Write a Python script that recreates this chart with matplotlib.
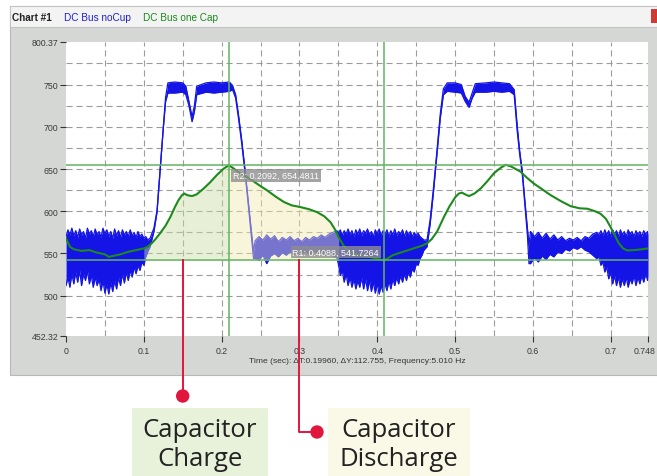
import numpy as np
import matplotlib
matplotlib.use("Agg")
import matplotlib.pyplot as plt
from matplotlib.patches import Rectangle, Circle
from matplotlib.lines import Line2D
from matplotlib.transforms import IdentityTransform, ScaledTranslation

# DC Bus noCup (blue): noisy trace, kept as upper / lower envelope of the band
blue_t = [0.0, 0.0025, 0.005, 0.0075, 0.01, 0.0125, 0.015, 0.0175, 0.02, 0.0225,
          0.025, 0.0275, 0.03, 0.0325, 0.035, 0.0375, 0.04, 0.0425, 0.045, 0.0475,
          0.05, 0.0525, 0.055, 0.0575, 0.06, 0.0625, 0.065, 0.0675, 0.07, 0.0725,
          0.075, 0.0775, 0.08, 0.0825, 0.085, 0.0875, 0.09, 0.0925, 0.095, 0.0975,
          0.1, 0.1025, 0.105,
          0.108, 0.113, 0.117, 0.121, 0.125, 0.128, 0.131, 0.14, 0.15, 0.154,
          0.158, 0.162, 0.165, 0.168, 0.18, 0.19, 0.2, 0.21, 0.214, 0.218,
          0.222, 0.226, 0.23, 0.234, 0.238, 0.241,
          0.243, 0.248, 0.253, 0.258, 0.263, 0.268, 0.273, 0.278, 0.283, 0.288,
          0.293, 0.298, 0.303, 0.308, 0.313, 0.318, 0.323, 0.328, 0.333, 0.338,
          0.343, 0.348,
          0.35, 0.3525, 0.355, 0.3575, 0.36, 0.3625, 0.365, 0.3675, 0.37, 0.3725,
          0.375, 0.3775, 0.38, 0.3825, 0.385, 0.3875, 0.39, 0.3925, 0.395, 0.3975,
          0.4, 0.4025, 0.405, 0.4075, 0.41, 0.4125, 0.415, 0.4175, 0.42, 0.4225,
          0.425, 0.4275, 0.43, 0.4325, 0.435, 0.4375, 0.44, 0.4425, 0.445, 0.4475,
          0.45, 0.4525, 0.455, 0.4575, 0.46,
          0.464, 0.468, 0.472, 0.477, 0.481, 0.485, 0.49, 0.5, 0.508, 0.513,
          0.518, 0.522, 0.526, 0.54, 0.55, 0.56, 0.57, 0.576, 0.58, 0.583,
          0.5865, 0.59, 0.593, 0.595,
          0.597, 0.602, 0.607, 0.612, 0.617, 0.622, 0.627, 0.632, 0.637, 0.642,
          0.647, 0.652, 0.657, 0.662, 0.667, 0.672, 0.677, 0.682,
          0.685, 0.6875, 0.69, 0.6925, 0.695, 0.6975, 0.7, 0.7025, 0.705, 0.7075,
          0.71, 0.7125, 0.715, 0.7175, 0.72, 0.7225, 0.725, 0.7275, 0.73, 0.7325,
          0.735, 0.7375, 0.74, 0.7425, 0.745, 0.7475, 0.748]
blue_hi = [570, 578, 572, 580, 571, 577, 569, 579, 572, 576,
           568, 580, 573, 577, 570, 579, 572, 576, 569, 580,
           573, 578, 570, 576, 568, 579, 571, 577, 569, 578,
           572, 576, 570, 578, 571, 575, 569, 576, 570, 573,
           568, 570, 566,
           568, 580, 601, 650, 700, 735, 752, 753, 752, 748,
           730, 712, 725, 748, 752, 753, 752, 753, 749, 738,
           712, 683, 650, 614, 578, 552,
           565, 570, 566, 572, 567, 571, 564, 569, 566, 570,
           565, 568, 564, 569, 566, 570, 568, 572, 569, 573,
           575, 577,
           574, 578, 571, 577, 573, 579, 572, 577, 570, 578,
           573, 579, 571, 577, 574, 579, 572, 576, 570, 578,
           573, 579, 571, 577, 573, 578, 570, 577, 572, 579,
           571, 576, 573, 578, 570, 577, 572, 576, 570, 575,
           571, 574, 570, 568, 566,
           566, 590, 625, 674, 715, 745, 752, 752, 750, 736,
           729, 740, 751, 752, 753, 752, 751, 744, 700, 672,
           647, 610, 580, 560,
           576, 570, 575, 568, 574, 567, 572, 566, 570, 565,
           568, 566, 569, 565, 570, 568, 573, 575,
           572, 577, 571, 578, 572, 577, 570, 578, 573, 577,
           570, 578, 572, 576, 570, 578, 573, 576, 570, 577,
           572, 576, 570, 577, 573, 576, 572]
blue_lo = [512, 522, 510, 526, 514, 528, 516, 530, 512, 526,
           518, 530, 514, 524, 510, 522, 512, 520, 506, 518,
           503, 514, 502, 516, 505, 518, 508, 522, 512, 526,
           515, 528, 518, 530, 522, 534, 526, 536, 530, 540,
           536, 546, 552,
           558, 576, 599, 648, 698, 730, 740, 740, 741, 738,
           725, 706, 718, 738, 741, 740, 741, 742, 744, 734,
           708, 679, 646, 610, 572, 544,
           544, 542, 548, 538, 547, 550, 546, 551, 548, 552,
           549, 553, 550, 552, 549, 553, 550, 552, 548, 551,
           547, 545,
           538, 524, 530, 516, 526, 512, 522, 510, 520, 508,
           518, 510, 522, 508, 520, 506, 518, 505, 516, 503,
           514, 502, 512, 504, 514, 506, 518, 508, 520, 512,
           522, 514, 524, 516, 526, 518, 528, 522, 532, 528,
           538, 536, 544, 548, 554,
           558, 585, 620, 670, 710, 738, 742, 741, 740, 730,
           723, 734, 741, 741, 742, 741, 742, 738, 694, 668,
           643, 605, 572, 538,
           538, 545, 540, 547, 543, 549, 546, 552, 550, 555,
           553, 557, 555, 558, 554, 552, 548, 544,
           546, 536, 540, 528, 534, 520, 528, 514, 524, 512,
           522, 510, 520, 512, 522, 510, 520, 514, 524, 512,
           522, 514, 524, 516, 526, 518, 524]

# DC Bus one Cap (green)
green_t = [0.0, 0.005, 0.01, 0.02, 0.03, 0.04, 0.05, 0.055, 0.06, 0.07, 0.08,
           0.09, 0.1, 0.105, 0.11, 0.115, 0.121, 0.128, 0.134, 0.14, 0.1445,
           0.149, 0.152, 0.156, 0.162, 0.168, 0.177, 0.185, 0.194, 0.202,
           0.2092, 0.215, 0.222, 0.23, 0.237, 0.248, 0.258, 0.27, 0.28, 0.29,
           0.301, 0.312, 0.3226, 0.332, 0.34, 0.346, 0.3505, 0.357, 0.365,
           0.375, 0.385, 0.395, 0.4088, 0.42, 0.43, 0.44, 0.45, 0.457, 0.464,
           0.47, 0.477, 0.4856, 0.493, 0.5006, 0.505, 0.509, 0.513, 0.518,
           0.525, 0.533, 0.541, 0.55, 0.558, 0.565, 0.572, 0.578, 0.584,
           0.592, 0.601, 0.612, 0.623, 0.636, 0.6486, 0.66, 0.67, 0.68,
           0.687, 0.694, 0.70, 0.705, 0.7106, 0.716, 0.7215, 0.73, 0.74,
           0.748]
green_v = [568, 558, 555, 553, 554, 551, 549, 546, 547, 549, 552,
           554, 556, 558, 562, 567, 574, 583, 593, 605, 613,
           619, 621, 619, 618, 620, 627, 634, 643, 650,
           654.5, 651, 646, 642, 638, 631, 625, 617, 611, 607,
           605, 602.5, 599, 594, 587, 578, 569, 559, 551,
           548, 547, 545, 541.7, 548, 551, 554, 557, 559, 562,
           567, 576, 593, 606, 617, 621, 622, 620, 618,
           621, 627, 635, 645, 651, 655, 653, 650, 647,
           640, 633, 626, 619, 612, 606, 603.5, 603, 600,
           597, 591, 581, 572, 562, 556, 553.6, 554, 555,
           556]

# cursors R1 / R2 and readout
r2 = (0.2092, 654.4811)
r1 = (0.4088, 541.7264)
charge_span = (0.099, 0.2092)
discharge_span = (0.2092, 0.352)
x_ticks = [0, 0.1, 0.2, 0.3, 0.4, 0.5, 0.6, 0.7, 0.748]
x_labels = ["0", "0.1", "0.2", "0.3", "0.4", "0.5", "0.6", "0.7", "0.748"]
y_ticks = [452.32, 500, 550, 600, 650, 700, 750, 800.37]
y_labels = ["452.32", "500", "550", "600", "650", "700", "750", "800.37"]
x_label = "Time (sec): \u0394T:0.19960, \u0394Y:112.755, Frequency:5.010 Hz"
callouts = ["Capacitor\nCharge", "Capacitor\nDischarge"]
callout_x = [0.15, 0.30]

W, H = 657, 477
BLUE = "#1414e6"
GREEN = "#1c8a1c"
CURSOR = "#62b462"
RED = "#e0163c"

plt.rcParams["font.family"] = ["Liberation Sans", "DejaVu Sans"]
fig = plt.figure(figsize=(W / 100, H / 100), dpi=100)
fig.patch.set_facecolor("white")


def px_rect(x0, y0, x1, y1, **kw):
    # rectangle in pixel coords measured from the top-left corner
    r = Rectangle((x0, H - y1), x1 - x0, y1 - y0, transform=IdentityTransform(), **kw)
    fig.add_artist(r)
    return r


# window chrome
px_rect(10, 7, 660, 376, facecolor="#d5d7d5", edgecolor="#b8b8b8", lw=0.8, zorder=0)
px_rect(10, 7, 660, 28, facecolor="#f3f3f3", edgecolor="#c4c4c4", lw=0.8, zorder=0.1)
px_rect(651, 10, 660, 24, facecolor="#cf3a34", edgecolor="none", zorder=0.2)
fig.text(12 / W, 1 - 18 / H, "Chart #1", fontsize=7.2, fontweight="bold",
         color="#222222", va="center")
fig.text(64 / W, 1 - 18 / H, "DC Bus noCup", fontsize=7.2, color="#2020d0", va="center")
fig.text(143 / W, 1 - 18 / H, "DC Bus one Cap", fontsize=7.2, color="#1a8a1a", va="center")

ax = fig.add_axes([66 / W, 1 - 337 / H, (648 - 66) / W, (337 - 43) / H])
ax.set_facecolor("white")
ax.set_xlim(0, 0.748)
ax.set_ylim(452.32, 800.37)
for s in ax.spines.values():
    s.set_visible(False)

for gx in np.arange(0.05, 0.748, 0.05):
    ax.axvline(gx, color="#9c9c9c", lw=0.8, dashes=(5.5, 3.5), zorder=0.5)
for gy in np.arange(475, 800, 25):
    ax.axhline(gy, color="#9c9c9c", lw=0.8, dashes=(5.5, 3.5), zorder=0.5)

# blue noisy band
ax.fill_between(blue_t, blue_lo, blue_hi, color=BLUE, lw=0, zorder=2)
ax.plot(blue_t, blue_hi, color=BLUE, lw=0.9, zorder=2)
ax.plot(blue_t, blue_lo, color=BLUE, lw=0.9, zorder=2)

# shaded charge / discharge areas between R1 level and the green curve
gt = np.asarray(green_t)
gv = np.asarray(green_v)
m1 = (gt >= charge_span[0]) & (gt <= charge_span[1])
m2 = (gt >= discharge_span[0]) & (gt <= discharge_span[1])
ax.fill_between(gt[m1], r1[1], gv[m1], color="#cadea4", alpha=0.45, lw=0, zorder=3)
ax.fill_between(gt[m2], r1[1], gv[m2], color="#f2ebb1", alpha=0.45, lw=0, zorder=3)

ax.plot(green_t, green_v, color=GREEN, lw=1.5, zorder=4)

# cursors
ax.axvline(r2[0], color=CURSOR, lw=1.1, zorder=5)
ax.axvline(r1[0], color=CURSOR, lw=1.1, zorder=5)
ax.axhline(r2[1], color=CURSOR, lw=1.1, zorder=5)
ax.axhline(r1[1], color=CURSOR, lw=1.1, zorder=5)
box = dict(boxstyle="square,pad=0.2", facecolor="#8e8e8e", edgecolor="none", alpha=0.8)
ax.annotate(f"R2: {r2[0]:.4f}, {r2[1]:.4f}", xy=r2, xytext=(4, -6),
            textcoords="offset pixels", fontsize=6.5, color="white",
            ha="left", va="top", bbox=box, zorder=6)
ax.annotate(f"R1: {r1[0]:.4f}, {r1[1]:.4f}", xy=r1, xytext=(-5, 4),
            textcoords="offset pixels", fontsize=6.5, color="white",
            ha="right", va="bottom", bbox=box, zorder=6)

ax.set_xticks(x_ticks, x_labels)
ax.set_yticks(y_ticks, y_labels)
ax.tick_params(axis="both", length=4.5, width=0.8, color="#333333",
               labelsize=6.3, labelcolor="#3a3a3a")
ax.tick_params(axis="x", pad=3)
ax.tick_params(axis="y", pad=1)
last = ax.get_xticklabels()[-1]
last.set_transform(last.get_transform() + ScaledTranslation(-3 / 100, 0, fig.dpi_scale_trans))
ax.set_xlabel(x_label, fontsize=6.1, color="#333333", labelpad=1.5)

# callouts below the chart
fig.canvas.draw()
label_boxes = [(132, 409, 268, 477, "#e8f1da"), (328, 409, 470, 477, "#faf8e6")]
for (x0, y0, x1, y1, fc), text in zip(label_boxes, callouts):
    px_rect(x0, y0, x1, y1, facecolor=fc, edgecolor="none", zorder=1)
    fig.text((x0 + x1) / 2 / W, 1 - 445 / H, text, ha="center", va="center",
             fontsize=18.5, family="Open Sans", color="#222222", linespacing=1.2)

ends = [[(None, 397)], [(None, 433), (317, 433)]]
for cx, path in zip(callout_x, ends):
    sx, sy = ax.transData.transform((cx, r1[1]))
    xs, ys = [sx], [sy]
    for px, py in path:
        xs.append(sx if px is None else px)
        ys.append(H - py)
    fig.add_artist(Line2D(xs, ys, color=RED, lw=1.4, transform=IdentityTransform(),
                          zorder=7))
    fig.add_artist(Circle((xs[-1], ys[-1]), 6, color=RED, transform=IdentityTransform(),
                          zorder=7))

fig.savefig("out.png", dpi=100)
